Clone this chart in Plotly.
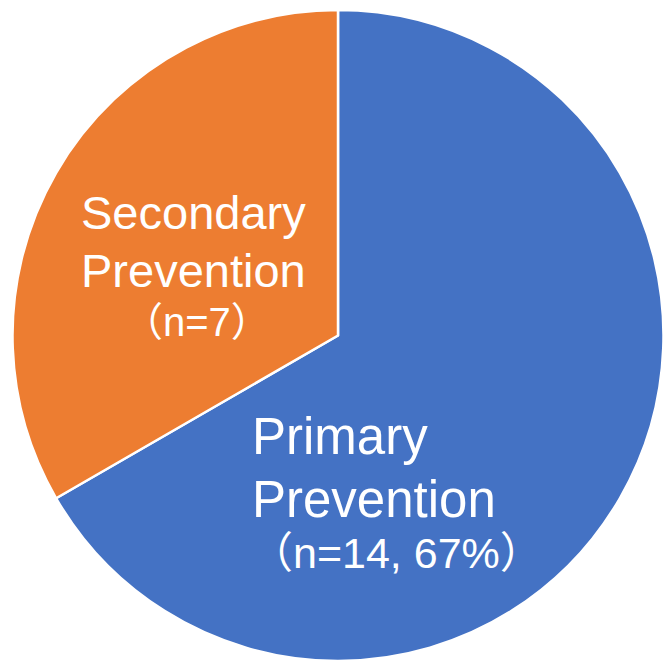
import plotly.graph_objects as go

# Slice data
categories = ["Primary Prevention", "Secondary Prevention"]
counts = [14, 7]
colors = ["#4472C4", "#ED7D31"]

# Label lines per slice
secondary_lines = ["Secondary", "Prevention", "（n=7）"]
primary_lines = ["Primary", "Prevention", "（n=14, 67%）"]

W, H = 664, 661
FONT = "Liberation Sans, Arial, Noto Sans CJK JP, sans-serif"

fig = go.Figure(
    go.Pie(
        labels=categories,
        values=counts,
        marker=dict(colors=colors, line=dict(color="white", width=2.5)),
        sort=False,
        direction="clockwise",
        rotation=0,
        textinfo="none",
        hoverinfo="label+value+percent",
        showlegend=False,
        domain=dict(x=[12.0 / W, 1.0], y=[0.0, 1 - 10 / H]),
    )
)


def px_to_paper(x, y):
    return x / W, 1 - y / H


annotations = []
# Secondary Prevention label (centered)
for text, (cx, cy), size in zip(
    secondary_lines,
    [(193, 212), (193, 270), (197, 322)],
    [47, 47, 40],
):
    px, py = px_to_paper(cx, cy)
    annotations.append(dict(
        x=px, y=py, xref="paper", yref="paper", text=text, showarrow=False,
        xanchor="center", yanchor="middle",
        font=dict(family=FONT, size=size, color="white"),
    ))

# Primary Prevention label (left-aligned)
for text, (lx, cy), size in zip(
    primary_lines,
    [(250, 436), (250, 499), (248, 553)],
    [51, 51, 43],
):
    px, py = px_to_paper(lx, cy)
    annotations.append(dict(
        x=px, y=py, xref="paper", yref="paper", text=text, showarrow=False,
        xanchor="left", yanchor="middle",
        font=dict(family=FONT, size=size, color="white"),
    ))

fig.update_layout(
    width=W,
    height=H,
    margin=dict(l=0, r=0, t=0, b=0),
    paper_bgcolor="white",
    plot_bgcolor="white",
    annotations=annotations,
)

fig.write_html("out.html")
